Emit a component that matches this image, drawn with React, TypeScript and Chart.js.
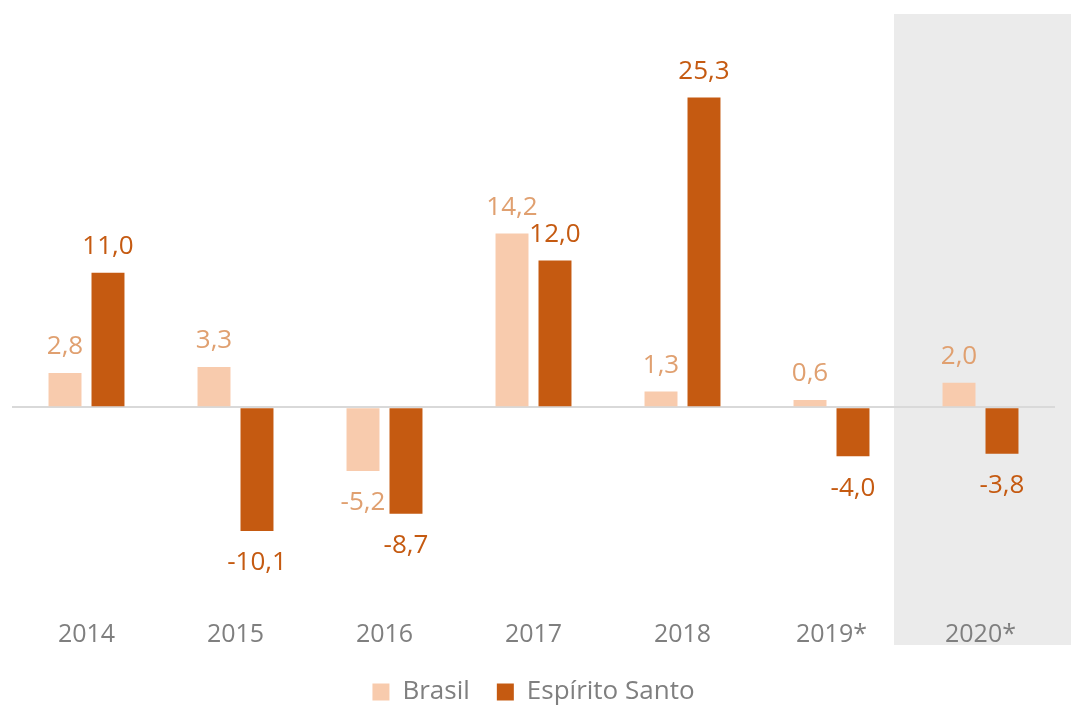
import React, { useEffect, useRef } from "react";
import { Chart, registerables } from "chart.js";

Chart.register(...registerables);

const categories = ["2014", "2015", "2016", "2017", "2018", "2019*", "2020*"];
const brasil = [2.8, 3.3, -5.2, 14.2, 1.3, 0.6, 2.0];
const espiritoSanto = [11.0, -10.1, -8.7, 12.0, 25.3, -4.0, -3.8];
const seriesNames = ["Brasil", "Espírito Santo"];
const barColors = ["#F8CBAD", "#C55A11"];
const labelColors = ["#E0A070", "#C55A11"];

const FONT = "'Open Sans', 'Noto Sans', sans-serif";

const shadePlugin = {
  id: "shade",
  beforeDraw(chart: any) {
    const x = chart.scales.x;
    const ctx = chart.ctx;
    const left = x.getPixelForValue(5.5) - 12;
    ctx.save();
    ctx.fillStyle = "#EBEBEB";
    ctx.fillRect(left, 14, chart.width - left, 645 - 14);
    ctx.restore();
  },
};

const labelPlugin = {
  id: "valueLabels",
  afterDatasetsDraw(chart: any) {
    const ctx = chart.ctx;
    ctx.save();
    ctx.font = `26px ${FONT}`;
    ctx.textAlign = "center";
    ctx.textBaseline = "middle";
    chart.data.datasets.forEach((ds: any, di: number) => {
      const meta = chart.getDatasetMeta(di);
      meta.data.forEach((el: any, i: number) => {
        const v = ds.data[i];
        const txt = v.toFixed(1).replace(".", ",");
        ctx.fillStyle = labelColors[di];
        const y = v >= 0 ? el.y - 26 : el.y + 32;
        ctx.fillText(txt, el.x, y);
      });
    });
    ctx.restore();
  },
};

export default function App() {
  const ref = useRef<HTMLCanvasElement | null>(null);
  useEffect(() => {
    document.body.style.margin = "0";
    const chart = new Chart(ref.current as HTMLCanvasElement, {
      type: "bar",
      data: {
        labels: categories,
        datasets: [
          {
            label: seriesNames[0],
            data: brasil,
            backgroundColor: barColors[0],
            categoryPercentage: 0.577,
            barPercentage: 0.767,
          },
          {
            label: seriesNames[1],
            data: espiritoSanto,
            backgroundColor: barColors[1],
            categoryPercentage: 0.577,
            barPercentage: 0.767,
          },
        ],
      },
      options: {
        animation: false,
        responsive: false,
        maintainAspectRatio: false,
        layout: { padding: { left: 12, right: 16, top: 40, bottom: -10 } },
        scales: {
          x: {
            grid: { display: false, drawTicks: true, tickLength: 27 },
            border: { display: false },
            ticks: {
              color: "#7F7F7F",
              font: { family: FONT, size: 25 },
              padding: 2,
            },
          },
          y: {
            min: -15,
            max: 30,
            ticks: { display: false, stepSize: 5 },
            border: { display: false },
            grid: {
              color: (c: any) => (c.tick && c.tick.value === 0 ? "#D9D9D9" : "rgba(0,0,0,0)"),
              lineWidth: 2,
              drawTicks: false,
            },
          },
        },
        plugins: {
          legend: {
            position: "bottom",
            labels: {
              color: "#7F7F7F",
              font: { family: FONT, size: 26 },
              boxWidth: 17,
              boxHeight: 17,
              padding: 27,
            },
          },
          tooltip: { enabled: false },
        },
      },
      plugins: [shadePlugin, labelPlugin],
    });
    return () => chart.destroy();
  }, []);
  return (
    <div style={{ position: "fixed", left: 0, top: 0, width: 1071, height: 705, background: "#fff" }}>
      <canvas ref={ref} width={1071} height={705} />
    </div>
  );
}
